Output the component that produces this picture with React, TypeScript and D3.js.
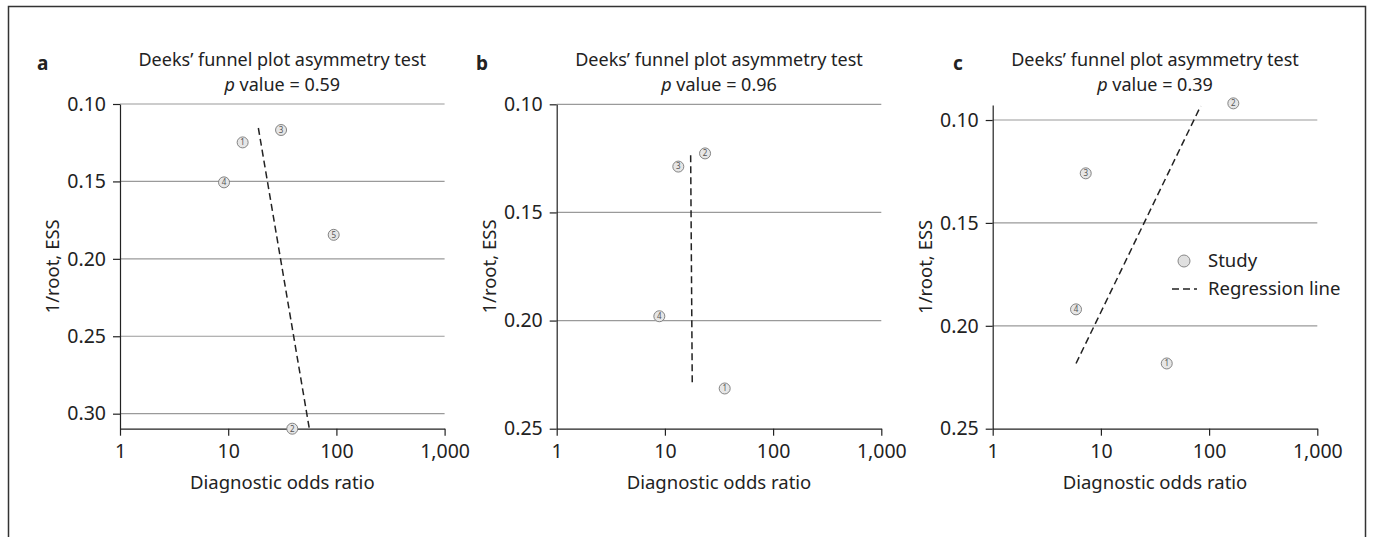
import * as d3 from "d3";
import { useEffect, useRef } from "react";

// study points per panel: study number, diagnostic odds ratio, 1/root(ESS)
const studyIdsA = [1, 2, 3, 4, 5];
const dorA = [13.6, 39.1, 30.8, 9.15, 94.4];
const essA = [0.1248, 0.3097, 0.1168, 0.1506, 0.1845];
const lineA = [
  [19.0, 0.1155],
  [56.2, 0.3097],
];

const studyIdsB = [1, 2, 3, 4];
const dorB = [35.7, 23.5, 13.3, 8.88];
const essB = [0.2314, 0.1227, 0.1288, 0.198];
const lineB = [
  [17.3, 0.1236],
  [17.9, 0.2296],
];

const studyIdsC = [1, 2, 3, 4];
const dorC = [40.6, 167.5, 7.24, 5.89];
const essC = [0.2183, 0.0919, 0.1259, 0.192];
const lineC = [
  [5.89, 0.2183],
  [83.6, 0.0932],
];

const panelLetters = ["a", "b", "c"];
const pValues = ["0.59", "0.96", "0.39"];
const yTicksA = [0.1, 0.15, 0.2, 0.25, 0.3];
const yTicksBC = [0.1, 0.15, 0.2, 0.25];
const xTicks = [1, 10, 100, 1000];
const legendItems = ["Study", "Regression line"];

const FONT = "'Noto Sans', 'Open Sans', sans-serif";
const INK = "#222";

export default function App() {
  const ref = useRef<SVGSVGElement>(null);

  useEffect(() => {
    const svg = d3.select(ref.current);
    svg.selectAll("*").remove();

    // frame
    svg
      .append("path")
      .attr("d", "M8.5,537 V6.5 H1365.5 V537")
      .attr("fill", "none")
      .attr("stroke", "#333")
      .attr("stroke-width", 1.5);

    const panels = [
      { ids: studyIdsA, dor: dorA, ess: essA, line: lineA, x0: 120, top: 104, domain: [0.1, 0.3097], ticks: yTicksA, lx: 37 },
      { ids: studyIdsB, dor: dorB, ess: essB, line: lineB, x0: 556.7, top: 104.3, domain: [0.1, 0.25], ticks: yTicksBC, lx: 476 },
      { ids: studyIdsC, dor: dorC, ess: essC, line: lineC, x0: 992.7, top: 105, domain: [0.0927, 0.25], ticks: yTicksBC, lx: 953 },
    ];
    const plotW = 324.6;
    const bottom = 428.7;

    panels.forEach((p, i) => {
      const x = d3.scaleLog().domain([1, 1000]).range([p.x0, p.x0 + plotW]);
      const y = d3.scaleLinear().domain(p.domain).range([p.top, bottom]);
      const g = svg.append("g").attr("font-family", FONT);
      const cx = p.x0 + plotW / 2;

      // grid lines
      g.append("g")
        .selectAll("line")
        .data(p.ticks.filter((t) => y(t) < bottom - 1))
        .join("line")
        .attr("x1", p.x0)
        .attr("x2", p.x0 + plotW)
        .attr("y1", (d) => y(d))
        .attr("y2", (d) => y(d))
        .attr("stroke", "#9a9a9a")
        .attr("stroke-width", 1.2);

      // axes
      const yAxis = g
        .append("g")
        .attr("transform", `translate(${p.x0},0)`)
        .call(
          d3
            .axisLeft(y)
            .tickValues(p.ticks)
            .tickFormat(d3.format(".2f"))
            .tickSize(7)
            .tickPadding(7)
            .tickSizeOuter(0)
        );
      const xAxis = g
        .append("g")
        .attr("transform", `translate(0,${bottom})`)
        .call(
          d3
            .axisBottom(x)
            .tickValues(xTicks)
            .tickFormat(d3.format(","))
            .tickSize(7)
            .tickPadding(8)
            .tickSizeOuter(0)
        );
      [yAxis, xAxis].forEach((a) => {
        a.select(".domain").attr("stroke", INK).attr("stroke-width", 1.2);
        a.selectAll(".tick line").attr("stroke", INK).attr("stroke-width", 1.2);
        a.selectAll("text")
          .attr("font-family", FONT)
          .attr("font-size", 19.5)
          .attr("fill", INK);
      });

      // titles
      g.append("text")
        .attr("x", p.lx)
        .attr("y", 70)
        .attr("font-weight", "bold")
        .attr("font-size", 19)
        .attr("fill", INK)
        .text(panelLetters[i]);
      g.append("text")
        .attr("x", cx)
        .attr("y", 66)
        .attr("text-anchor", "middle")
        .attr("font-size", 18)
        .attr("fill", INK)
        .text("Deeks\u2019 funnel plot asymmetry test");
      const pv = g
        .append("text")
        .attr("x", cx)
        .attr("y", 91)
        .attr("text-anchor", "middle")
        .attr("font-size", 18)
        .attr("fill", INK);
      pv.append("tspan").attr("font-style", "italic").text("p");
      pv.append("tspan").text(` value = ${pValues[i]}`);

      g.append("text")
        .attr("x", cx)
        .attr("y", 489)
        .attr("text-anchor", "middle")
        .attr("font-size", 18.5)
        .attr("fill", INK)
        .text("Diagnostic odds ratio");
      g.append("text")
        .attr("transform", `translate(${p.x0 - 67},${(p.top + bottom) / 2}) rotate(-90)`)
        .attr("text-anchor", "middle")
        .attr("dy", "0.35em")
        .attr("font-size", 18.5)
        .attr("fill", INK)
        .text("1/root, ESS");

      // regression line
      g.append("path")
        .attr(
          "d",
          d3
            .line<number[]>()
            .x((d) => x(d[0]))
            .y((d) => y(d[1]))(p.line)
        )
        .attr("fill", "none")
        .attr("stroke", INK)
        .attr("stroke-width", 1.5)
        .attr("stroke-dasharray", "7,4");

      // study markers
      const pts = g
        .append("g")
        .selectAll("g")
        .data(p.ids.map((id, k) => ({ id, dor: p.dor[k], ess: p.ess[k] })))
        .join("g")
        .attr("transform", (d) => `translate(${x(d.dor)},${y(d.ess)})`);
      pts
        .append("circle")
        .attr("r", 5.5)
        .attr("fill", "#e6e6e6")
        .attr("stroke", "#777")
        .attr("stroke-width", 0.9);
      pts
        .append("text")
        .attr("text-anchor", "middle")
        .attr("dy", "0.35em")
        .attr("font-size", 8)
        .attr("fill", "#555")
        .text((d) => d.id);
    });

    // legend (panel c)
    const lg = svg.append("g").attr("font-family", FONT).attr("font-size", 18.5).attr("fill", INK);
    lg.append("circle")
      .attr("cx", 1184)
      .attr("cy", 261)
      .attr("r", 6)
      .attr("fill", "#e0e0e0")
      .attr("stroke", "#888")
      .attr("stroke-width", 1);
    lg.append("line")
      .attr("x1", 1172)
      .attr("x2", 1197)
      .attr("y1", 289)
      .attr("y2", 289)
      .attr("stroke", INK)
      .attr("stroke-width", 1.5)
      .attr("stroke-dasharray", "7,4");
    lg.selectAll("text")
      .data(legendItems)
      .join("text")
      .attr("x", 1208)
      .attr("y", (d, k) => 261 + k * 28)
      .attr("dy", "0.35em")
      .text((d) => d);
  }, []);

  return (
    <svg
      ref={ref}
      width={1375}
      height={537}
      style={{ position: "absolute", left: 0, top: 0, background: "#fff" }}
    />
  );
}
